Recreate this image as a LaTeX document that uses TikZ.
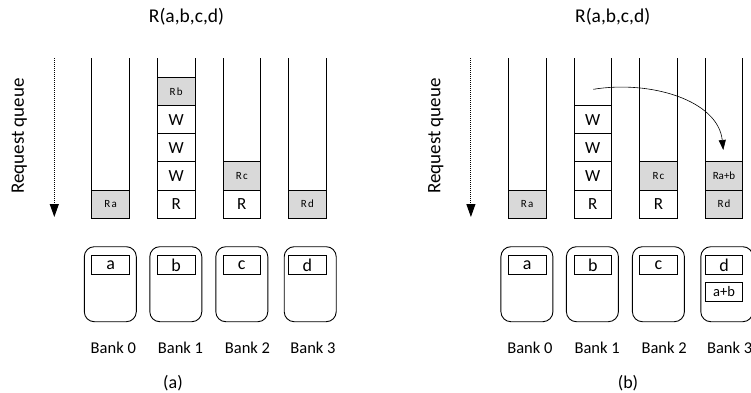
\documentclass[tikz,border=0pt]{standalone}
\usepackage{fontspec}
\setmainfont{Carlito}
\usetikzlibrary{arrows.meta}
\definecolor{cellgray}{HTML}{D9D9D9}
\newcommand{\fsz}[1]{\fontsize{#1}{#1}\selectfont}
\newcommand{\rdreq}[1]{R\kern1.2pt#1}
\tikzset{
  colline/.style={line width=0.9pt},
  cell/.style={draw, line width=0.9pt, minimum width=37.5pt, minimum height=28.2pt,
    inner sep=0pt, font=\fsz{17}},
  gcell/.style={cell, fill=cellgray, font=\fsz{11}},
  bankbox/.style={draw, line width=0.9pt, rounded corners=10pt,
    minimum width=52pt, minimum height=75pt, inner sep=0pt},
  tag/.style={draw, line width=0.9pt, minimum width=37.6pt, minimum height=18.6pt,
    inner sep=0pt, font=\fsz{18}},
  banklabel/.style={font=\fsz{16.5}},
  title/.style={font=\fsz{19.5}},
  caption/.style={font=\fsz{18}},
  qlabel/.style={rotate=90, font=\fsz{19}},
  queue/.style={line width=1pt, densely dotted, -{Triangle[width=9pt,length=13pt]}},
  move/.style={line width=0.6pt, -{Triangle[width=7pt,length=10pt]}}
}
\begin{document}
\begin{tikzpicture}[x=1pt,y=-1pt]
\useasboundingbox (0,0) rectangle (751,392);
\clip (0,0) rectangle (751,392);

% titles and captions
\node[title] (ta) at (186.5,17) {R(a,b,c,d)};
\node[title] (tb) at (612.7,17) {R(a,b,c,d)};
\node[caption] (capa) at (173,382.7) {(a)};
\node[caption] (capb) at (628,382.7) {(b)};

% ---------- panel (a) ----------
\node[qlabel] (qa) at (19.2,136) {Request queue};
\coordinate (qa1) at (54.3,58);
\coordinate (qa2) at (54.3,217);
\draw[queue] (qa1) -- (qa2);

\foreach \x in {110.6,176.2,241.8,307.4} {
  \draw[colline] (\x-18.75,58) -- (\x-18.75,218.3);
  \draw[colline] (\x+18.75,58) -- (\x+18.75,218.3);
}
% queue contents
\node[gcell] (a0c0) at (110.6,204.2) {\rdreq{a}};
\node[cell]  (a1c0) at (176.2,204.2) {R};
\node[cell]  (a1c1) at (176.2,176)   {W};
\node[cell]  (a1c2) at (176.2,147.8) {W};
\node[cell]  (a1c3) at (176.2,119.6) {W};
\node[gcell] (a1c4) at (176.2,91.4)  {\rdreq{b}};
\node[cell]  (a2c0) at (241.8,204.2) {R};
\node[gcell] (a2c1) at (241.8,176)   {\rdreq{c}};
\node[gcell] (a3c0) at (307.4,204.2) {\rdreq{d}};

% banks
\node[bankbox] (ab0) at (110.3,284.2) {};
\node[bankbox] (ab1) at (175.8,284.2) {};
\node[bankbox] (ab2) at (241.8,284.2) {};
\node[bankbox] (ab3) at (310.2,284.2) {};
\node[tag] (at0) at (110.6,265) {a};
\node[tag] (at1) at (176.2,265) {b};
\node[tag] (at2) at (241.8,265) {c};
\node[tag] (at3) at (307.4,265) {d};
\node[banklabel] (al0) at (113.3,348.3) {Bank 0};
\node[banklabel] (al1) at (180.5,348.3) {Bank 1};
\node[banklabel] (al2) at (247.5,348.3) {Bank 2};
\node[banklabel] (al3) at (313,348.3) {Bank 3};

% ---------- panel (b) ----------
\begin{scope}[xshift=416.6pt]
\node[qlabel] (qb) at (19.2,136) {Request queue};
\coordinate (qb1) at (54.3,58);
\coordinate (qb2) at (54.3,217);
\draw[queue] (qb1) -- (qb2);

\foreach \x in {110.6,176.2,241.8,307.4} {
  \draw[colline] (\x-18.75,58) -- (\x-18.75,218.3);
  \draw[colline] (\x+18.75,58) -- (\x+18.75,218.3);
}
\node[gcell] (b0c0) at (110.6,204.2) {\rdreq{a}};
\node[cell]  (b1c0) at (176.2,204.2) {R};
\node[cell]  (b1c1) at (176.2,176)   {W};
\node[cell]  (b1c2) at (176.2,147.8) {W};
\node[cell]  (b1c3) at (176.2,119.6) {W};
\node[cell]  (b2c0) at (241.8,204.2) {R};
\node[gcell] (b2c1) at (241.8,176)   {\rdreq{c}};
\node[gcell] (b3c0) at (307.4,204.2) {\rdreq{d}};
\node[gcell] (b3c1) at (307.4,176)   {Ra+b};

% Rb is redirected from bank 1 to bank 3
\coordinate (mv1) at (176.7,89.3);
\coordinate (mv2) at (306.7,150);
\draw[move] (mv1) .. controls (233.4,80) and (301.4,100) .. (mv2);

\node[bankbox] (bb0) at (110.3,284.2) {};
\node[bankbox] (bb1) at (175.8,284.2) {};
\node[bankbox] (bb2) at (241.8,284.2) {};
\node[bankbox] (bb3) at (310.2,284.2) {};
\node[tag] (bt0) at (110.6,265) {a};
\node[tag] (bt1) at (176.2,265) {b};
\node[tag] (bt2) at (241.8,265) {c};
\node[tag] (bt3) at (307.4,265) {d};
\node[tag, font=\fsz{14.5}] (bt3s) at (307.4,291.7) {a+b};
\node[banklabel] (bl0) at (113.3,348.3) {Bank 0};
\node[banklabel] (bl1) at (180.5,348.3) {Bank 1};
\node[banklabel] (bl2) at (247.5,348.3) {Bank 2};
\node[banklabel] (bl3) at (313,348.3) {Bank 3};
\end{scope}
\end{tikzpicture}
\end{document}
